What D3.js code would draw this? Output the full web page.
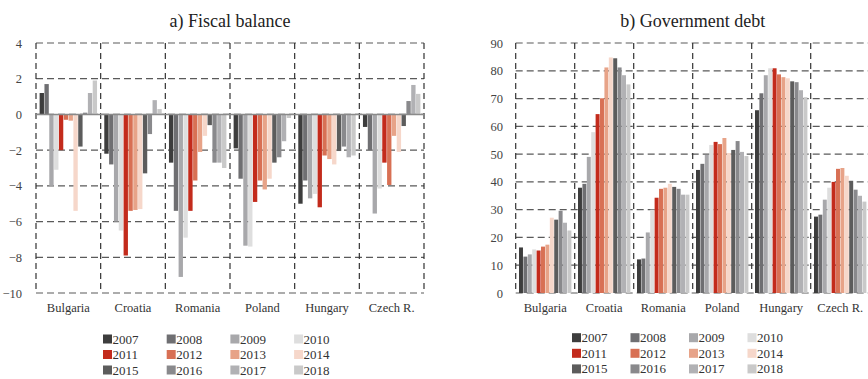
<!DOCTYPE html>
<html>
<head>
<meta charset="utf-8">
<script src="https://cdn.jsdelivr.net/npm/d3@7/dist/d3.min.js"></script>
<style>
  html, body { margin: 0; padding: 0; background: #fff; }
  svg { display: block; }
  svg text { font-family: "Liberation Serif", "Times New Roman", serif !important; }
</style>
</head>
<body>
<svg id="chart" width="868" height="379"></svg>
<script>
// Countries and years shown in both panels
const countries = ["Bulgaria", "Croatia", "Romania", "Poland", "Hungary", "Czech R."];
const years = ["2007", "2008", "2009", "2010", "2011", "2012", "2013", "2014", "2015", "2016", "2017", "2018"];

// a) Fiscal balance, % of GDP (one row per country, 2007..2018)
const fiscalBulgaria = [1.2, 1.7, -4.0, -3.1, -2.0, -0.3, -0.35, -5.4, -1.8, 0.1, 1.2, 1.9];
const fiscalCroatia  = [-2.2, -2.8, -6.0, -6.5, -7.9, -5.4, -5.35, -5.3, -3.3, -1.1, 0.8, 0.3];
const fiscalRomania  = [-2.7, -5.4, -9.1, -6.9, -5.4, -3.7, -2.1, -1.2, -0.6, -2.7, -2.7, -3.0];
const fiscalPoland   = [-1.9, -3.6, -7.35, -7.4, -4.9, -3.7, -4.2, -3.6, -2.7, -2.4, -1.5, -0.2];
const fiscalHungary  = [-5.0, -3.7, -4.7, -4.45, -5.2, -2.3, -2.5, -2.8, -2.05, -1.8, -2.4, -2.3];
const fiscalCzech    = [-0.7, -2.0, -5.55, -4.15, -2.7, -3.95, -1.2, -2.1, -0.65, 0.75, 1.65, 1.15];

// b) Government debt, % of GDP
const debtBulgaria = [16.4, 13.1, 13.9, 15.7, 15.3, 16.7, 17.4, 27.1, 26.4, 29.6, 25.3, 22.5];
const debtCroatia  = [37.9, 39.3, 49.0, 57.9, 64.4, 70.1, 81.2, 84.8, 84.5, 81.2, 78.4, 75.1];
const debtRomania  = [12.1, 12.4, 21.8, 30.0, 34.3, 37.5, 37.9, 39.3, 38.2, 37.5, 35.4, 35.4];
const debtPoland   = [44.3, 46.5, 49.7, 53.3, 54.4, 53.6, 55.8, 50.4, 51.5, 54.7, 50.8, 49.3];
const debtHungary  = [65.8, 71.9, 78.4, 80.9, 80.9, 78.7, 77.7, 77.3, 76.2, 75.9, 73.0, 70.5];
const debtCzech    = [27.5, 28.2, 33.6, 37.9, 40.0, 44.7, 45.0, 42.2, 40.4, 37.2, 35.0, 32.9];

const fiscalTicks = [4, 2, 0, -2, -4, -6, -8, -10];
const debtTicks = [0, 10, 20, 30, 40, 50, 60, 70, 80, 90];

const yearColors = ["#3d3d3d", "#6f6f72", "#a8a8ab", "#dedede",
                    "#c32b1c", "#d87054", "#e7a388", "#f6d7ca",
                    "#5c5c5c", "#89898c", "#b1b1b4", "#c9c9c9"];

const fiscalRows = [fiscalBulgaria, fiscalCroatia, fiscalRomania, fiscalPoland, fiscalHungary, fiscalCzech];
const debtRows = [debtBulgaria, debtCroatia, debtRomania, debtPoland, debtHungary, debtCzech];

const SERIF = '"Liberation Serif", "Times New Roman", serif';
const svg = d3.select("#chart");
const color = d3.scaleOrdinal().domain(years).range(yearColors);

function panel(opts) {
  const g = svg.append("g");
  const x0 = d3.scaleBand().domain(countries).range([opts.left, opts.right]).padding(0);
  const x1 = d3.scaleBand().domain(years).range([0, x0.bandwidth()])
    .paddingInner(0.1).paddingOuter(opts.outer);
  const y = d3.scaleLinear().domain(opts.domain).range([opts.bottom, opts.top]);

  // title
  g.append("text")
    .attr("x", (opts.left + opts.right) / 2).attr("y", 27)
    .attr("text-anchor", "middle").style("font-size", "18px").attr("fill", "#222")
    .style("font-family", SERIF)
    .text(opts.title);

  // horizontal dashed grid (includes top and bottom frame)
  g.append("g").selectAll("line").data(opts.ticks).join("line")
    .attr("x1", opts.left).attr("x2", opts.right)
    .attr("y1", d => y(d)).attr("y2", d => y(d))
    .attr("stroke", "#5a5a5a").attr("stroke-width", 1.2)
    .attr("stroke-dasharray", "7,4");

  // vertical dashed separators (includes left and right frame)
  const seps = countries.map(c => x0(c)).concat([opts.right]);
  g.append("g").selectAll("line").data(seps).join("line")
    .attr("x1", d => d).attr("x2", d => d)
    .attr("y1", opts.top).attr("y2", opts.bottom)
    .attr("stroke", "#333").attr("stroke-width", 1.2)
    .attr("stroke-dasharray", "6,4");

  // y tick labels
  const yAxis = d3.axisLeft(y).tickValues(opts.ticks).tickSize(0).tickPadding(0)
    .tickFormat(d3.format("d"));
  const ax = g.append("g").attr("transform", `translate(${opts.labelX},0)`).call(yAxis)
    .attr("font-family", null).attr("font-size", null);
  ax.select(".domain").remove();
  ax.selectAll("text").style("font-size", "12.5px").attr("fill", "#444")
    .style("font-family", SERIF);

  // bars
  const groups = g.append("g").selectAll("g").data(countries).join("g")
    .attr("transform", c => `translate(${x0(c)},0)`);
  groups.selectAll("rect")
    .data((c, i) => years.map((yr, j) => ({ yr, v: opts.rows[i][j] })))
    .join("rect")
    .attr("x", d => x1(d.yr))
    .attr("width", x1.bandwidth())
    .attr("y", d => y(Math.max(0, d.v)))
    .attr("height", d => Math.abs(y(d.v) - y(0)))
    .attr("fill", d => color(d.yr));

  // zero line
  if (opts.zeroLine) {
    g.append("line")
      .attr("x1", opts.left).attr("x2", opts.right)
      .attr("y1", y(0)).attr("y2", y(0))
      .attr("stroke", "#8a8a8a").attr("stroke-width", 1.6);
  }

  // country labels
  const xAxis = d3.axisBottom(x0).tickSize(0).tickPadding(0);
  const bx = g.append("g").attr("transform", `translate(0,${opts.labelY})`).call(xAxis)
    .attr("font-family", null).attr("font-size", null);
  bx.select(".domain").remove();
  bx.selectAll("text").style("font-size", "12.5px").attr("fill", "#333")
    .style("font-family", SERIF).attr("dy", "0.95em");

  // legend, 4 columns x 3 rows
  const lg = g.append("g");
  years.forEach((yr, i) => {
    const col = i % 4, row = Math.floor(i / 4);
    const lx = opts.legX + col * opts.legDX;
    const ly = opts.legY + row * opts.legDY;
    lg.append("rect").attr("x", lx).attr("y", ly - 4.5).attr("width", 9).attr("height", 9)
      .attr("fill", color(yr));
    lg.append("text").attr("x", lx + 9.5).attr("y", ly + 4.5)
      .style("font-size", "13px").style("font-family", SERIF)
      .attr("fill", "#333").text(yr);
  });
}

panel({
  title: "a) Fiscal balance", left: 36, right: 424, top: 43, bottom: 293,
  domain: [-10, 4], ticks: fiscalTicks, rows: fiscalRows, outer: 0.75,
  labelX: 22, labelY: 300, zeroLine: true,
  legX: 103, legY: 339, legDX: 63.7, legDY: 15.5
});

panel({
  title: "b) Government debt", left: 515.7, right: 869.7, top: 43, bottom: 293,
  domain: [0, 90], ticks: debtTicks, rows: debtRows, outer: 0.75,
  labelX: 503, labelY: 300, zeroLine: false,
  legX: 572, legY: 337.7, legDX: 58.5, legDY: 15.6
});
</script>
</body>
</html>
